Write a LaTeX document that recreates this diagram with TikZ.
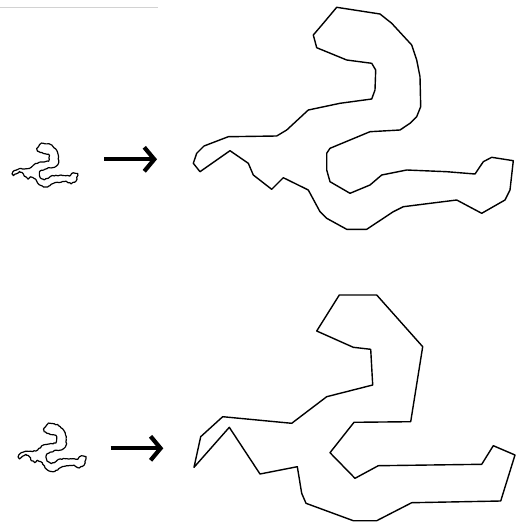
\documentclass[tikz,border=0pt]{standalone}
\usepackage{tikz}
\usetikzlibrary{arrows.meta,decorations.pathmorphing}

% outline of the big upper shape (pixel units, y downwards)
\def\shapeTop{(336.7,7.3) -- (380,14) -- (391.7,23.3) -- (411.7,45) -- (416.7,60) -- (420,76.7)
  -- (420.7,106.7) -- (416.7,116.7) -- (410,123.3) -- (400,130) -- (370,131.7) -- (330,148.3)
  -- (326.7,153.3) -- (326.7,170) -- (330,181.7) -- (350,193.3) -- (370,185) -- (381.7,175)
  -- (406.7,170) -- (446.7,171.7) -- (475,174) -- (483.3,161.7) -- (491.7,157.3) -- (513.3,160.7)
  -- (510,190) -- (505,200) -- (481.7,213.3) -- (456.7,200) -- (403.3,206.7) -- (393.3,211.7)
  -- (366.7,229.3) -- (346.7,229.3) -- (326.7,218.3) -- (320,211.7) -- (308.3,190) -- (283.3,177.7)
  -- (271.7,189.3) -- (253.3,175) -- (248.3,163.3) -- (230,150.7) -- (200,171.7) -- (193.3,163.3)
  -- (196.7,153.3) -- (204,146) -- (228.3,136.7) -- (276.7,136) -- (286.7,130) -- (308.3,110)
  -- (340,103.3) -- (371.7,99) -- (375,90) -- (375.7,70) -- (371.7,63.3) -- (346.7,60)
  -- (316.7,47.7) -- (313.3,35) -- (323.3,23.3) -- cycle}

% outline of the big lower shape
\def\shapeBottom{(339.3,295) -- (376.7,295) -- (422.7,346.7) -- (410.7,421.7) -- (354,422.3)
  -- (330,452.7) -- (355,478.3) -- (378.3,465.7) -- (481.7,464.3) -- (493.3,445.7) -- (515,455)
  -- (500.7,501) -- (411.7,502.7) -- (376.7,520.7) -- (353.3,520.7) -- (306,503.3) -- (301.7,493.3)
  -- (297.3,466.7) -- (260,474) -- (229.3,427.3) -- (194,467.3) -- (200.7,436.7) -- (222.7,416.7)
  -- (291.7,423.3) -- (326.7,396.7) -- (372.7,385) -- (370.7,349.3) -- (353.3,347.3)
  -- (316.7,331) -- cycle}

\begin{document}
\begin{tikzpicture}[
  x=1pt, y=-1pt,
  outline/.style={draw, line width=1.4pt, line join=round},
  sketch/.style={draw, line width=1.2pt, line join=round,
    decorate, decoration={random steps, segment length=1.8pt, amplitude=0.5pt}},
  bigarrow/.style={line width=4.2pt, -{Straight Barb[length=10pt, width=24pt, line width=4.2pt]}}
]
  \useasboundingbox (0,0) rectangle (515,522);
  \pgfmathsetseed{7}

  % faint scan line at the top
  \coordinate (scanL) at (0,7);
  \coordinate (scanR) at (158,7);
  \draw[gray!35, line width=0.8pt] (scanL) -- (scanR);

  % upper row: small contour -> big outline
  \begin{scope}[shift={(12,143)}, xscale=0.205, yscale=0.198, shift={(-193,-7)}]
    \path[sketch] \shapeTop;
  \end{scope}
  \coordinate (arrA1) at (104,159.3);
  \coordinate (arrA2) at (157,159.3);
  \draw[bigarrow] (arrA1) -- (arrA2);
  \path[outline] \shapeTop;

  % lower row: small contour -> polygon
  \begin{scope}[shift={(18,423)}, xscale=0.212, yscale=0.218, shift={(-193,-7)}]
    \path[sketch] \shapeTop;
  \end{scope}
  \coordinate (arrB1) at (110.7,448.3);
  \coordinate (arrB2) at (163.3,448.3);
  \draw[bigarrow] (arrB1) -- (arrB2);
  \path[outline] \shapeBottom;
\end{tikzpicture}
\end{document}
